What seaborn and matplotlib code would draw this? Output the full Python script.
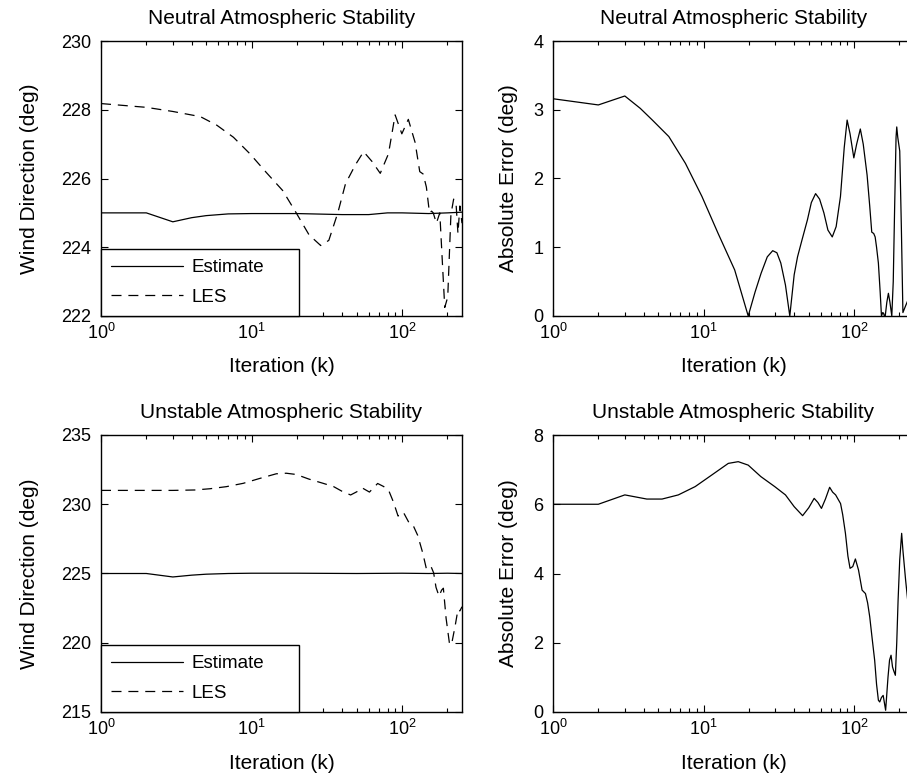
import numpy as np
import pandas as pd
import seaborn as sns
import matplotlib.pyplot as plt

# values (iteration k on a log axis)
neutral_est_k = [1, 2, 3, 4, 5, 7, 10, 20, 40, 60, 80, 100, 150, 200, 250]
neutral_est = [225.0, 225.0, 224.74, 224.86, 224.92, 224.97, 224.98, 224.98,
               224.95, 224.95, 225.0, 225.0, 224.98, 225.0, 225.02]

neutral_les_k = [1, 2, 3, 4.57, 5.88, 7.58, 9.75, 12.5, 16.1, 19.8, 24.1, 28.8,
                 32.6, 37.4, 42.1, 49, 55.5, 63, 71.6, 81.2, 89.9, 99.6, 110,
                 122, 131, 138, 145, 152, 157, 161, 169, 178, 186, 192, 201,
                 211, 220, 228, 235, 242, 250]
neutral_les = [228.18, 228.07, 227.95, 227.8, 227.55, 227.2, 226.72, 226.18,
               225.65, 225.0, 224.36, 224.05, 224.2, 225.0, 225.85, 226.4,
               226.78, 226.5, 226.15, 226.72, 227.85, 227.3, 227.72, 227.05,
               226.2, 226.13, 225.75, 225.0, 225.05, 225.0, 224.7, 225.0,
               223.4, 222.25, 222.55, 224.95, 225.4, 225.3, 224.4, 225.2, 224.7]

neutral_err_k = [1, 2, 3, 3.8, 4.57, 5.88, 7.58, 9.75, 12.5, 16.1, 19.8, 22,
                 24.1, 26.5, 28.8, 30.7, 32.6, 35, 37.4, 40, 42.1, 45, 49, 52,
                 55.5, 59, 63, 67, 71.6, 76, 81.2, 86, 89.9, 94, 99.6, 104,
                 110, 115, 122, 127, 131, 135, 138, 141, 145, 149, 152, 155,
                 157, 159, 161, 165, 169, 173, 178, 182, 186, 190, 192, 195,
                 201, 206, 211, 220, 235, 250]
neutral_err = [3.16, 3.07, 3.2, 3.02, 2.85, 2.61, 2.22, 1.74, 1.2, 0.67, 0.0,
               0.35, 0.62, 0.86, 0.95, 0.92, 0.77, 0.45, 0.0, 0.6, 0.86, 1.1,
               1.4, 1.65, 1.78, 1.7, 1.5, 1.25, 1.15, 1.3, 1.74, 2.45, 2.85,
               2.65, 2.3, 2.5, 2.72, 2.5, 2.05, 1.6, 1.22, 1.2, 1.15, 1.0, 0.77,
               0.35, 0.0, 0.05, 0.04, 0.0, 0.0, 0.2, 0.33, 0.2, 0.0, 0.5, 1.6,
               2.6, 2.75, 2.6, 2.4, 1.3, 0.05, 0.15, 0.3, 0.2]

unstable_est_k = [1, 2, 3, 4, 5, 7, 10, 20, 50, 100, 150, 200, 250]
unstable_est = [225.0, 225.0, 224.75, 224.88, 224.95, 225.0, 225.02, 225.02,
                225.0, 225.02, 225.0, 225.02, 225.0]

unstable_les_k = [1, 3, 4.2, 5.3, 6.8, 8.8, 11.3, 14.6, 17, 19.8, 24, 29.7, 35,
                  40, 45.5, 50, 54.3, 60.7, 68.8, 75.4, 81.3, 87.6, 94, 102,
                  113, 119, 127, 137, 145, 148, 156, 162, 168, 176, 183, 188,
                  196, 207, 215, 225, 235, 242, 250]
unstable_les = [231.0, 231.0, 231.03, 231.12, 231.27, 231.51, 231.86, 232.2,
                232.24, 232.15, 231.82, 231.52, 231.28, 230.93, 230.67, 230.9,
                231.18, 230.88, 231.5, 231.28, 231.02, 230.16, 229.15, 229.42,
                228.52, 228.42, 227.75, 226.5, 225.34, 225.29, 225.48, 225.05,
                224.0, 223.36, 223.8, 223.94, 221.77, 219.84, 220.1, 221.2,
                222.4, 222.3, 222.6]

unstable_err_k = [1, 2, 3, 4.2, 5.3, 6.8, 8.8, 11.3, 14.6, 17, 19.8, 24, 29.7,
                  35, 40, 45.5, 50, 54.3, 57.5, 60.7, 64.5, 68.8, 72, 75.4,
                  81.3, 84, 87.6, 91, 94, 98, 102, 107, 113, 119, 123, 127,
                  132, 137, 141, 145, 148, 152, 156, 162, 168, 172, 176, 180,
                  183, 188, 192, 196, 201, 207, 211, 220, 235, 250]
unstable_err = [6.0, 6.0, 6.27, 6.15, 6.15, 6.27, 6.51, 6.84, 7.18, 7.23, 7.13,
                6.8, 6.51, 6.27, 5.93, 5.67, 5.9, 6.17, 6.05, 5.88, 6.15, 6.49,
                6.35, 6.27, 6.02, 5.7, 5.16, 4.5, 4.15, 4.2, 4.42, 4.1, 3.52,
                3.42, 3.15, 2.75, 2.1, 1.49, 0.8, 0.34, 0.29, 0.42, 0.48, 0.05,
                1.01, 1.5, 1.64, 1.3, 1.2, 1.06, 2.0, 3.23, 4.4, 5.16, 4.67,
                3.8, 2.6, 2.4]

titles = ["Neutral Atmospheric Stability", "Unstable Atmospheric Stability"]
dir_ticks = [[222, 224, 226, 228, 230], [215, 220, 225, 230, 235]]
err_ticks = [[0, 1, 2, 3, 4], [0, 2, 4, 6, 8]]

sns.set_style("ticks")
plt.rcParams['font.family'] = ['Liberation Sans', 'DejaVu Sans']
plt.rcParams['mathtext.default'] = 'regular'
plt.rcParams['text.color'] = 'black'
plt.rcParams['axes.labelcolor'] = 'black'

fig = plt.figure(figsize=(9.07, 7.79), dpi=100)
W, H = 907.0, 779.0
# pixel boxes: left, top, right, bottom
boxes = {
    (0, 0): (101, 41, 462, 316), (0, 1): (553, 41, 914, 316),
    (1, 0): (101, 435, 462, 712), (1, 1): (553, 435, 914, 712),
}
axes = {}
for key, (l, t, r, b) in boxes.items():
    axes[key] = fig.add_axes([l / W, 1 - b / H, (r - l) / W, (b - t) / H])

dash = (0, (8, 5.5))
lw = 0.9

data = [
    (neutral_est_k, neutral_est, neutral_les_k, neutral_les, neutral_err_k, neutral_err),
    (unstable_est_k, unstable_est, unstable_les_k, unstable_les, unstable_err_k, unstable_err),
]

for row, (ek, ev, lk, lv, rk, rv) in enumerate(data):
    ax = axes[(row, 0)]
    sns.lineplot(x=ek, y=ev, ax=ax, color='k', lw=lw, estimator=None,
                 sort=False, label='Estimate')
    sns.lineplot(x=lk, y=lv, ax=ax, color='k', lw=lw, estimator=None,
                 sort=False, linestyle=dash, label='LES')
    ax.set_ylim(dir_ticks[row][0], dir_ticks[row][-1])
    ax.set_yticks(dir_ticks[row])
    ax.set_ylabel('Wind Direction (deg)', fontsize=15)
    ax.yaxis.set_label_coords(-0.172, 0.5)
    hgt = 69.0 / (boxes[(row, 0)][3] - boxes[(row, 0)][1])
    leg = ax.legend(loc='lower left', bbox_to_anchor=(0, 0, 198 / 361, hgt),
                    mode='expand', borderaxespad=0, fancybox=False,
                    edgecolor='k', framealpha=1, fontsize=13.5,
                    handlelength=3.8, handletextpad=0.5, borderpad=0.55,
                    labelspacing=0.65)
    leg.get_frame().set_linewidth(1.0)

    ax2 = axes[(row, 1)]
    sns.lineplot(x=rk, y=rv, ax=ax2, color='k', lw=lw, estimator=None, sort=False)
    ax2.set_ylim(err_ticks[row][0], err_ticks[row][-1])
    ax2.set_yticks(err_ticks[row])
    ax2.set_ylabel('Absolute Error (deg)', fontsize=15)
    ax2.yaxis.set_label_coords(-0.097, 0.5)

    for a in (ax, ax2):
        a.set_xscale('log')
        a.set_xlim(1, 250)
        a.set_title(titles[row], fontsize=15, pad=12, color='black')
        a.set_xlabel('Iteration (k)', fontsize=15)
        a.xaxis.set_label_coords(0.5, -0.15)
        a.tick_params(which='both', direction='in', top=True, right=True,
                      colors='k', labelsize=13, width=0.8)
        a.tick_params(which='major', length=5)
        a.tick_params(axis='x', which='major', pad=5)
        a.tick_params(axis='y', which='major', pad=7)
        a.tick_params(which='minor', length=3)
        for s in a.spines.values():
            s.set_color('k')
            s.set_linewidth(1.0)
        a.grid(False)

fig.savefig('out.png', dpi=100)
